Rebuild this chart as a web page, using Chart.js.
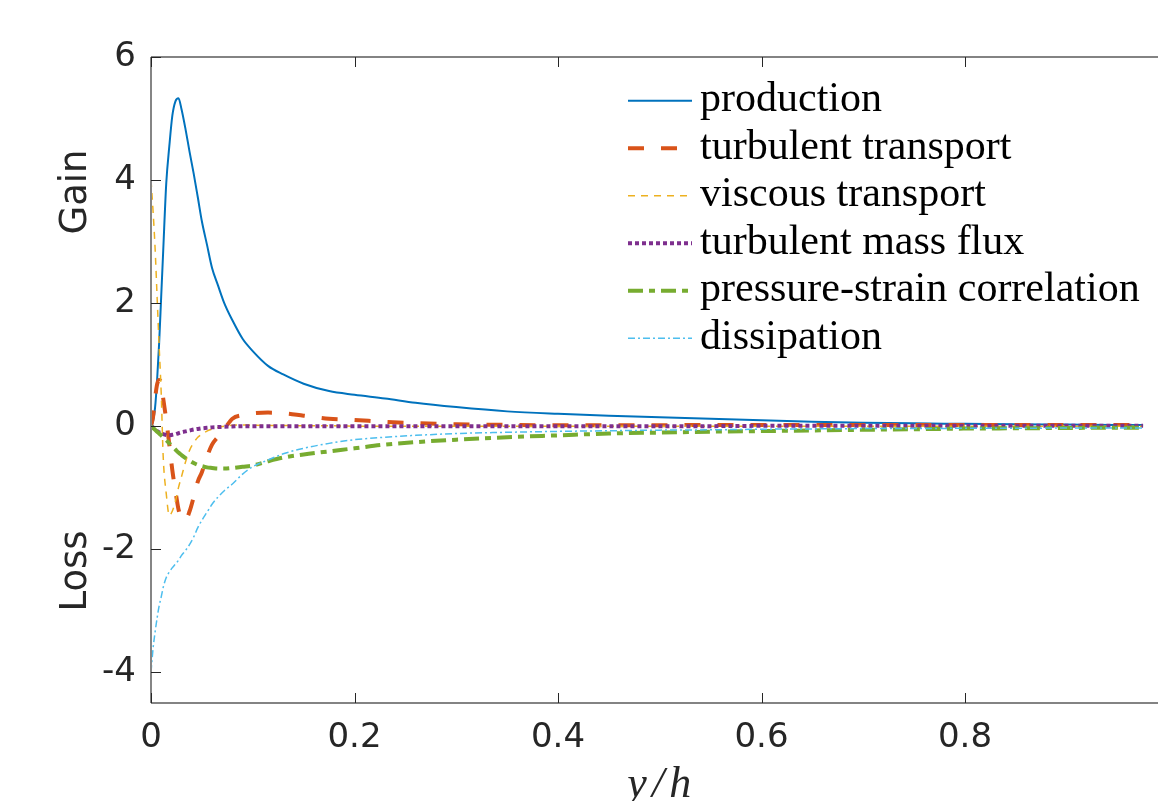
<!DOCTYPE html>
<html><head><meta charset="utf-8">
<script src="https://cdn.jsdelivr.net/npm/chart.js@4.4.1/dist/chart.umd.min.js"></script>
<style>
html,body{margin:0;padding:0;background:#fff;overflow:hidden;}
#wrap{width:1158px;height:801px;overflow:hidden;position:relative;background:#fff;}
canvas{display:block;}
</style></head><body>
<div id="wrap"><canvas id="c" width="1200" height="801"></canvas></div>
<script>
// ---------------- data ----------------
const yh = [0, 0.002, 0.004, 0.006, 0.008, 0.010, 0.012, 0.015, 0.018, 0.021, 0.024, 0.027, 0.030, 0.034, 0.038, 0.042, 0.046, 0.050, 0.055, 0.060, 0.066, 0.072, 0.080, 0.090, 0.100, 0.115, 0.130, 0.150, 0.175, 0.200, 0.230, 0.260, 0.300, 0.350, 0.400, 0.450, 0.500, 0.550, 0.600, 0.650, 0.700, 0.750, 0.800, 0.850, 0.900, 0.950, 0.975];

const production = [0, 0.08, 0.3, 0.75, 1.35, 2.1, 2.85, 3.95, 4.55, 5.05, 5.28, 5.33, 5.15, 4.82, 4.45, 4.1, 3.72, 3.33, 2.95, 2.57, 2.28, 2.0, 1.72, 1.42, 1.22, 0.98, 0.84, 0.69, 0.57, 0.51, 0.45, 0.38, 0.31, 0.24, 0.2, 0.17, 0.145, 0.12, 0.095, 0.07, 0.055, 0.045, 0.038, 0.03, 0.025, 0.02, 0.02];

const turbulentTransport = [0, 0.15, 0.45, 0.68, 0.75, 0.7, 0.45, 0.1, -0.3, -0.72, -1.05, -1.35, -1.5, -1.52, -1.38, -1.15, -0.9, -0.75, -0.5, -0.3, -0.17, -0.05, 0.12, 0.18, 0.21, 0.22, 0.21, 0.17, 0.12, 0.1, 0.07, 0.05, 0.03, 0.02, 0.015, 0.015, 0.015, 0.02, 0.02, 0.02, 0.02, 0.02, 0.02, 0.02, 0.02, 0.02, 0.02];

const viscousTransport = [4.0, 3.5, 2.9, 2.1, 1.3, 0.55, -0.5, -1.1, -1.45, -1.38, -1.22, -1.0, -0.82, -0.58, -0.39, -0.27, -0.18, -0.13, -0.08, -0.05, -0.02, 0.0, 0.015, 0.02, 0.015, 0.01, 0.01, 0.005, 0.005, 0, 0, 0, 0, 0, 0, 0, 0, 0, 0, 0, 0, 0, 0, 0, 0, 0, 0];

const turbulentMassFlux = [0, -0.02, -0.05, -0.08, -0.1, -0.12, -0.13, -0.145, -0.15, -0.14, -0.13, -0.115, -0.1, -0.085, -0.07, -0.055, -0.045, -0.035, -0.028, -0.02, -0.015, -0.01, -0.005, 0, 0, 0, 0, 0, 0, 0, 0, 0, 0, 0, 0, 0, 0, 0, 0.005, 0.005, 0.005, 0.005, 0.005, 0.005, 0.005, 0.005, 0.005];

const pressureStrain = [0, -0.03, -0.06, -0.09, -0.12, -0.15, -0.18, -0.23, -0.28, -0.33, -0.38, -0.43, -0.47, -0.52, -0.56, -0.6, -0.63, -0.65, -0.67, -0.68, -0.69, -0.69, -0.68, -0.66, -0.64, -0.57, -0.51, -0.46, -0.41, -0.36, -0.3, -0.26, -0.22, -0.18, -0.15, -0.12, -0.105, -0.09, -0.08, -0.07, -0.06, -0.05, -0.04, -0.035, -0.03, -0.025, -0.025];

const dissipation = [-4.0, -3.62, -3.35, -3.12, -2.92, -2.78, -2.62, -2.46, -2.37, -2.3, -2.24, -2.18, -2.1, -2.02, -1.92, -1.8, -1.65, -1.53, -1.4, -1.27, -1.15, -1.05, -0.94, -0.78, -0.66, -0.55, -0.45, -0.36, -0.28, -0.22, -0.18, -0.15, -0.12, -0.1, -0.085, -0.075, -0.065, -0.06, -0.05, -0.045, -0.04, -0.04, -0.035, -0.035, -0.03, -0.03, -0.03];

const seriesNames = ['production', 'turbulent transport', 'viscous transport', 'turbulent mass flux', 'pressure-strain correlation', 'dissipation'];
const xTicks = [0, 0.2, 0.4, 0.6, 0.8, 1];
const yTicks = [-4, -2, 0, 2, 4, 6];
const sideLabels = ['Gain', 'Loss'];
const xTitle = 'y/h';

// ---------------- styles ----------------
const styles = [
  {color:'#0072BD', width:2,   dash:[]},
  {color:'#D95319', width:4,   dash:[16,17]},
  {color:'#EDB120', width:1.5, dash:[7,6]},
  {color:'#7E2F8E', width:4,   dash:[4,3]},
  {color:'#77AC30', width:4,   dash:[15,6,6,6]},
  {color:'#4DBEEE', width:1.5, dash:[7,3,2,3]}
];
const seriesValues = [production, turbulentTransport, viscousTransport, turbulentMassFlux, pressureStrain, dissipation];

const datasets = seriesValues.map((vals, i) => ({
  label: seriesNames[i],
  data: yh.map((x, j) => ({x: x, y: vals[j]})),
  borderColor: styles[i].color,
  backgroundColor: styles[i].color,
  borderWidth: styles[i].width,
  borderDash: styles[i].dash,
  borderCapStyle: 'butt',
  pointRadius: 0,
  fill: false,
  cubicInterpolationMode: 'monotone',
  order: 10 - i
}));

const framePlugin = {
  id: 'frame',
  afterDatasetsDraw(chart) {
    const ctx = chart.ctx, a = chart.chartArea, xs = chart.scales.x, ys = chart.scales.y;
    ctx.save();
    const line = (x1, y1, x2, y2) => { ctx.beginPath(); ctx.moveTo(x1, y1); ctx.lineTo(x2, y2); ctx.stroke(); };
    // box
    ctx.setLineDash([]);
    ctx.strokeStyle = '#858585'; ctx.lineWidth = 2;
    line(a.left, a.top, a.left, a.bottom);
    ctx.strokeStyle = '#5a5a5a'; ctx.lineWidth = 1.3;
    line(a.left, a.bottom, a.right, a.bottom);
    line(a.left, a.top, a.right, a.top);
    line(a.right, a.top, a.right, a.bottom);
    // ticks (inward)
    ctx.strokeStyle = '#262626'; ctx.lineWidth = 1;
    yTicks.forEach(v => {
      const p = Math.round(ys.getPixelForValue(v)) + 0.5;
      line(a.left, p, a.left + 10, p); line(a.right - 10, p, a.right, p);
    });
    xTicks.forEach(v => {
      const p = Math.round(xs.getPixelForValue(v)) + 0.5;
      line(p, a.bottom, p, a.bottom - 10); line(p, a.top, p, a.top + 10);
    });
    // Gain / Loss
    ctx.fillStyle = '#262626';
    ctx.font = '37px "DejaVu Sans"';
    ctx.textAlign = 'center'; ctx.textBaseline = 'middle';
    [[sideLabels[0], 192], [sideLabels[1], 571]].forEach(([t, cy]) => {
      ctx.save(); ctx.translate(76, cy); ctx.rotate(-Math.PI / 2); ctx.fillText(t, 0, 0); ctx.restore();
    });
    // x title
    ctx.fillStyle = '#262626';
    ctx.font = 'italic 44px "Liberation Serif"';
    ctx.letterSpacing = '5px';
    ctx.textAlign = 'center'; ctx.textBaseline = 'alphabetic';
    ctx.fillText(xTitle, (a.left + a.right) / 2 + 2, 797);
    ctx.letterSpacing = '0px';
    // legend
    ctx.font = '42px "Liberation Serif"';
    ctx.textAlign = 'left';
    chart.data.datasets.forEach((ds, i) => {
      const ry = 100.7 + i * 47.5;
      ctx.strokeStyle = ds.borderColor; ctx.lineWidth = ds.borderWidth;
      ctx.setLineDash(ds.borderDash); ctx.lineCap = 'butt';
      line(628, ry, 692, ry);
      ctx.setLineDash([]);
      ctx.fillStyle = '#000';
      ctx.fillText(ds.label, 700, ry + 10.5);
    });
    ctx.restore();
  }
};

new Chart(document.getElementById('c'), {
  type: 'line',
  data: {datasets: datasets},
  options: {
    responsive: false, animation: false, devicePixelRatio: 1,
    layout: {padding: {top: 57, right: 31.5, bottom: 0, left: 0}},
    plugins: {legend: {display: false}, tooltip: {enabled: false}},
    scales: {
      x: {
        type: 'linear', min: 0, max: 1,
        afterBuildTicks: s => { s.ticks = xTicks.map(v => ({value: v})); },
        afterFit: s => { s.height = 98; },
        grid: {display: false, drawTicks: false}, border: {display: false},
        ticks: {font: {family: 'DejaVu Sans', size: 34}, color: '#262626', padding: 15, maxRotation: 0,
                callback: v => (v >= 1 ? '' : String(v))}
      },
      y: {
        type: 'linear', min: -4.5, max: 6,
        afterBuildTicks: s => { s.ticks = yTicks.map(v => ({value: v})); },
        afterFit: s => { s.width = 151; },
        grid: {display: false, drawTicks: false}, border: {display: false},
        ticks: {font: {family: 'DejaVu Sans', size: 34}, color: '#262626', padding: 15}
      }
    }
  },
  plugins: [framePlugin]
});
</script>
</body></html>
